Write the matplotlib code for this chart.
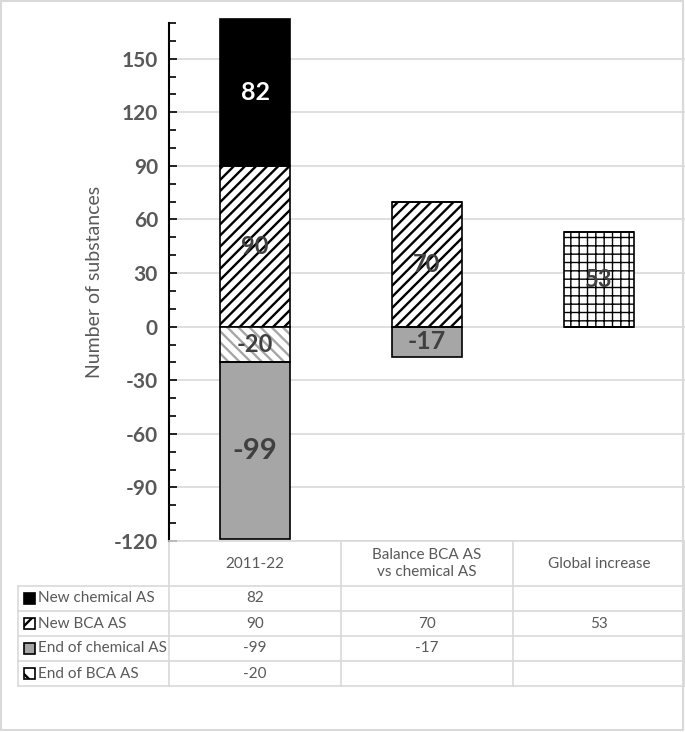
import numpy as np
import matplotlib as mpl
import matplotlib.pyplot as plt
from matplotlib.patches import Rectangle
from matplotlib.ticker import MultipleLocator

plt.rcParams['font.family'] = ['Lato', 'DejaVu Sans']
plt.rcParams['hatch.linewidth'] = 1.7
plt.rcParams['axes.unicode_minus'] = False

categories = ['2011-22', 'Balance BCA AS\nvs chemical AS', 'Global increase']
series = ['New chemical AS', 'New BCA AS', 'End of chemical AS', 'End of BCA AS']
new_chem = [82, None, None]
new_bca = [90, 70, 53]
end_chem = [-99, -17, None]
end_bca = [-20, None, None]

grey_txt = '#595959'
grid_col = '#d9d9d9'

fig = plt.figure(figsize=(6.85, 7.32), dpi=100)
fig.patches.append(Rectangle((0.002, 0.003), 0.995, 0.995, transform=fig.transFigure,
                             fill=False, edgecolor='#d9d9d9', lw=1.5))
ax = fig.add_axes([169 / 685, 191 / 732, 516 / 685, 518 / 732])

x = np.arange(len(categories))
w = 0.41


def val(v):
    return 0 if v is None else v


# positives: New BCA at bottom, New chemical above
for i in range(3):
    if i == 2:
        # the "Global increase" bar uses a thin grid pattern instead of diagonals
        with mpl.rc_context({'hatch.linewidth': 1.0}):
            b = ax.bar(x[i], new_bca[i], w, color='white', edgecolor='black', hatch='++',
                       lw=1.2, clip_on=False, zorder=3)
    else:
        ax.bar(x[i], new_bca[i], w, color='white', edgecolor='black', hatch='///',
               lw=1.2, clip_on=False, zorder=3)
top = [val(a) for a in new_bca]
ax.bar(x, [val(v) for v in new_chem], w, bottom=top, color='black', edgecolor='black',
       lw=1.2, clip_on=False, zorder=3)

# negatives: End of BCA nearest zero, End of chemical below
eb = [val(v) for v in end_bca]
ax.bar(x, eb, w, color='white', edgecolor='#a6a6a6', hatch='\\\\\\',
       lw=0, clip_on=False, zorder=3)
ax.bar(x, eb, w, fill=False, edgecolor='black', lw=1.2, clip_on=False, zorder=4)
ax.bar(x, [val(v) for v in end_chem], w, bottom=eb, color='#a6a6a6', edgecolor='black',
       lw=1.2, clip_on=False, zorder=3)

# data labels
for i in range(3):
    if new_chem[i] is not None:
        ax.text(x[i], new_bca[i] + new_chem[i] / 2, str(new_chem[i]), ha='center', va='center',
                color='white', fontsize=18, fontweight='bold', zorder=5)
    ax.text(x[i], new_bca[i] / 2, str(new_bca[i]), ha='center', va='center',
            color='#404040', fontsize=17, fontweight='bold', zorder=5)
    if end_bca[i] is not None:
        ax.text(x[i], end_bca[i] / 2, str(end_bca[i]), ha='center', va='center',
                color='#404040', fontsize=17, fontweight='bold', zorder=5)
    if end_chem[i] is not None:
        mid = val(end_bca[i]) + end_chem[i] / 2
        ax.text(x[i], mid, str(end_chem[i]), ha='center', va='center', color='#404040',
                fontsize=21 if abs(end_chem[i]) > 50 else 18, fontweight='bold', zorder=5)

ax.set_xlim(-0.5, 2.5)
ax.set_ylim(-120, 170)
ax.yaxis.set_major_locator(MultipleLocator(30))
ax.yaxis.set_minor_locator(MultipleLocator(10))
ax.set_yticks(np.arange(-120, 151, 30))
ax.tick_params(axis='y', which='major', direction='in', length=6, width=1.2,
               labelsize=15, labelcolor=grey_txt, pad=8)
ax.tick_params(axis='y', which='minor', direction='in', length=5, width=1.2)
for lab in ax.get_yticklabels():
    lab.set_fontweight('bold')
ax.set_xticks([])
ax.grid(axis='y', color=grid_col, lw=1.2, zorder=0)
ax.set_axisbelow(True)
for s in ['top', 'right']:
    ax.spines[s].set_visible(False)
ax.spines['bottom'].set_color(grid_col)
ax.spines['bottom'].set_linewidth(1.2)
ax.spines['left'].set_linewidth(1.5)
ax.set_ylabel('Number of substances', fontsize=14, color=grey_txt, labelpad=8)

# data table below the axes (axes coords)
H = 518.0
Wd = 516.0
hdr = 45 / H
rh = 25 / H
x_lab = -151 / Wd
col_edges = [0, 1 / 3, 2 / 3, 1.0]
tr = ax.transAxes
kw = dict(transform=tr, clip_on=False, color=grid_col, lw=1.2)

y_rows = [-hdr - k * rh for k in range(5)]
for ce in col_edges:
    ax.plot([ce, ce], [0, y_rows[-1]], **kw)
ax.plot([x_lab, x_lab], [y_rows[0], y_rows[-1]], **kw)
for yy in y_rows:
    ax.plot([x_lab, 1], [yy, yy], **kw)

for j, c in enumerate(categories):
    ax.text((col_edges[j] + col_edges[j + 1]) / 2, -hdr / 2, c, transform=tr, ha='center',
            va='center', fontsize=11, color=grey_txt, linespacing=1.3)

rows = [new_chem, new_bca, end_chem, end_bca]
keys = [dict(facecolor='black', edgecolor='black', hatch=None),
        dict(facecolor='white', edgecolor='black', hatch='//'),
        dict(facecolor='#a6a6a6', edgecolor='black', hatch=None),
        dict(facecolor='white', edgecolor='black', hatch='\\\\')]
for r, (name, vals) in enumerate(zip(series, rows)):
    yc = y_rows[r] - rh / 2
    kx = x_lab + 6 / Wd
    ax.add_patch(Rectangle((kx, yc - 5.5 / H), 11 / Wd, 11 / H, transform=tr,
                           clip_on=False, lw=1.2, **keys[r]))
    ax.text(x_lab + 20 / Wd, yc, name, transform=tr, ha='left', va='center',
            fontsize=11, color=grey_txt)
    for j, v in enumerate(vals):
        if v is not None:
            ax.text((col_edges[j] + col_edges[j + 1]) / 2, yc, str(v), transform=tr,
                    ha='center', va='center', fontsize=11, color=grey_txt)

fig.savefig('out.png', dpi=100)
